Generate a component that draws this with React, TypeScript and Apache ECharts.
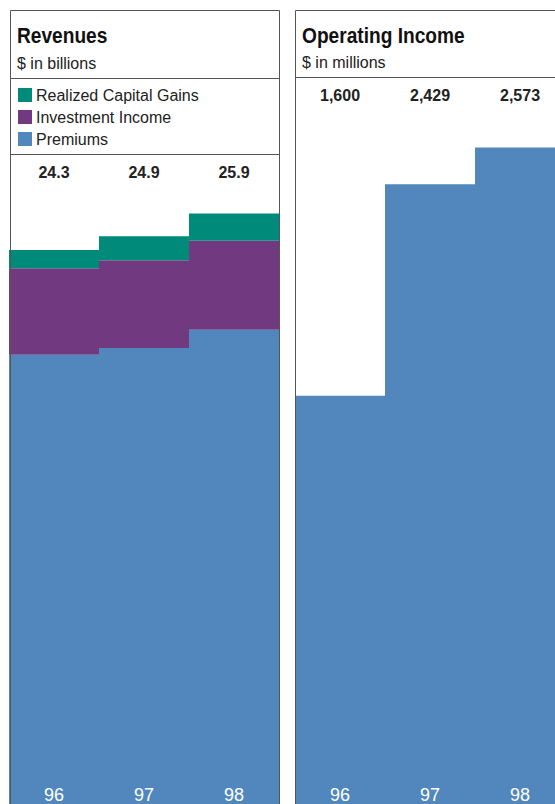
import React, { useEffect, useRef } from "react";
import * as echarts from "echarts";

const years = ["96", "97", "98"];
const premiums = [19.7, 20.0, 20.8];
const investmentIncome = [3.8, 3.85, 3.9];
const realizedGains = [0.8, 1.05, 1.2];
const revenueTotals = ["24.3", "24.9", "25.9"];
const operatingIncome = [1600, 2429, 2573];

const FONT = "'Liberation Sans', Arial, sans-serif";
const BLUE = "#5287be";
const PURPLE = "#713a80";
const TEAL = "#008a79";
const INK = "#222222";
const RULE = "#555555";

export default function App() {
  const ref = useRef<HTMLDivElement>(null);
  useEffect(() => {
    if (!ref.current) return;
    const chart = echarts.init(ref.current, undefined, { renderer: "svg" });
    const catLabel = {
      show: true,
      position: "insideBottom",
      distance: 1,
      formatter: "{b}",
      color: "#ffffff",
      fontFamily: FONT,
      fontSize: 18,
      lineHeight: 16,
    };
    const hiddenCat = (gridIndex: number) => ({
      type: "category",
      gridIndex,
      data: years,
      axisLine: { show: false },
      axisTick: { show: false },
      axisLabel: { show: false },
    });
    const topCat = (gridIndex: number, offset: number, fmt: (i: number) => string) => ({
      type: "category",
      gridIndex,
      data: years,
      position: "top",
      offset,
      axisLine: { show: false },
      axisTick: { show: false },
      axisLabel: {
        margin: 0,
        verticalAlign: "middle",
        color: INK,
        fontFamily: FONT,
        fontWeight: "bold",
        fontSize: 16,
        formatter: (_v: string, i: number) => fmt(i),
      },
    });
    const barBase = {
      type: "bar",
      barCategoryGap: "0%",
    };
    const titleText = (x: number, y: number, text: string) => ({
      type: "text",
      z: 100,
      x,
      y,
      scaleX: 0.87,
      style: { text, fill: "#111", font: `bold 22px ${FONT}`, verticalAlign: "middle" },
    });
    const subText = (x: number, y: number, text: string) => ({
      type: "text",
      z: 100,
      x,
      y,
      style: { text, fill: INK, font: `16px ${FONT}`, verticalAlign: "middle" },
    });
    chart.setOption({
      animation: false,
      grid: [
        { left: 9, width: 270, top: 6, height: 798 },
        { left: 295, width: 270, top: 13, height: 791 },
      ],
      xAxis: [
        hiddenCat(0),
        topCat(0, -166, (i) => revenueTotals[i]),
        hiddenCat(1),
        topCat(1, -82, (i) => operatingIncome[i].toLocaleString("en-US")),
      ],
      yAxis: [
        { type: "value", gridIndex: 0, min: 0, max: 35, show: false },
        { type: "value", gridIndex: 1, min: 0, max: 3100, show: false },
      ],
      legend: {
        data: ["Realized Capital Gains", "Investment Income", "Premiums"],
        orient: "vertical",
        left: 13,
        top: 79,
        icon: "rect",
        itemWidth: 14,
        itemHeight: 14,
        itemGap: 0,
        selectedMode: false,
        textStyle: { fontFamily: FONT, fontSize: 16, color: INK, lineHeight: 22, padding: [0, 0, 0, -1] },
      },
      series: [
        {
          ...barBase,
          name: "Premiums",
          stack: "rev",
          xAxisIndex: 0,
          yAxisIndex: 0,
          data: premiums,
          itemStyle: { color: BLUE },
          label: catLabel,
        },
        {
          ...barBase,
          name: "Investment Income",
          stack: "rev",
          xAxisIndex: 0,
          yAxisIndex: 0,
          data: investmentIncome,
          itemStyle: { color: PURPLE },
        },
        {
          ...barBase,
          name: "Realized Capital Gains",
          stack: "rev",
          xAxisIndex: 0,
          yAxisIndex: 0,
          data: realizedGains,
          itemStyle: { color: TEAL },
        },
        {
          ...barBase,
          name: "Operating Income",
          xAxisIndex: 2,
          yAxisIndex: 1,
          data: operatingIncome,
          itemStyle: { color: BLUE },
          label: catLabel,
        },
      ],
      graphic: [
        {
          type: "rect",
          z: 100,
          shape: { x: 10.5, y: 10.5, width: 269, height: 820 },
          style: { fill: "none", stroke: RULE, lineWidth: 1 },
        },
        {
          type: "line",
          z: 100,
          shape: { x1: 10, y1: 78.5, x2: 279, y2: 78.5 },
          style: { stroke: RULE, lineWidth: 1 },
        },
        {
          type: "line",
          z: 100,
          shape: { x1: 10, y1: 154.5, x2: 279, y2: 154.5 },
          style: { stroke: RULE, lineWidth: 1 },
        },
        {
          type: "rect",
          z: 100,
          shape: { x: 295.5, y: 10.5, width: 290, height: 820 },
          style: { fill: "none", stroke: RULE, lineWidth: 1 },
        },
        {
          type: "line",
          z: 100,
          shape: { x1: 295, y1: 77.5, x2: 575, y2: 77.5 },
          style: { stroke: RULE, lineWidth: 1 },
        },
        titleText(17, 35, "Revenues"),
        subText(17, 63, "$ in billions"),
        titleText(302, 35, "Operating Income"),
        subText(302, 62, "$ in millions"),
      ],
    });
    return () => chart.dispose();
  }, []);
  return (
    <div
      ref={ref}
      style={{ position: "fixed", left: 0, top: 0, width: 575, height: 804, background: "#ffffff" }}
    />
  );
}
